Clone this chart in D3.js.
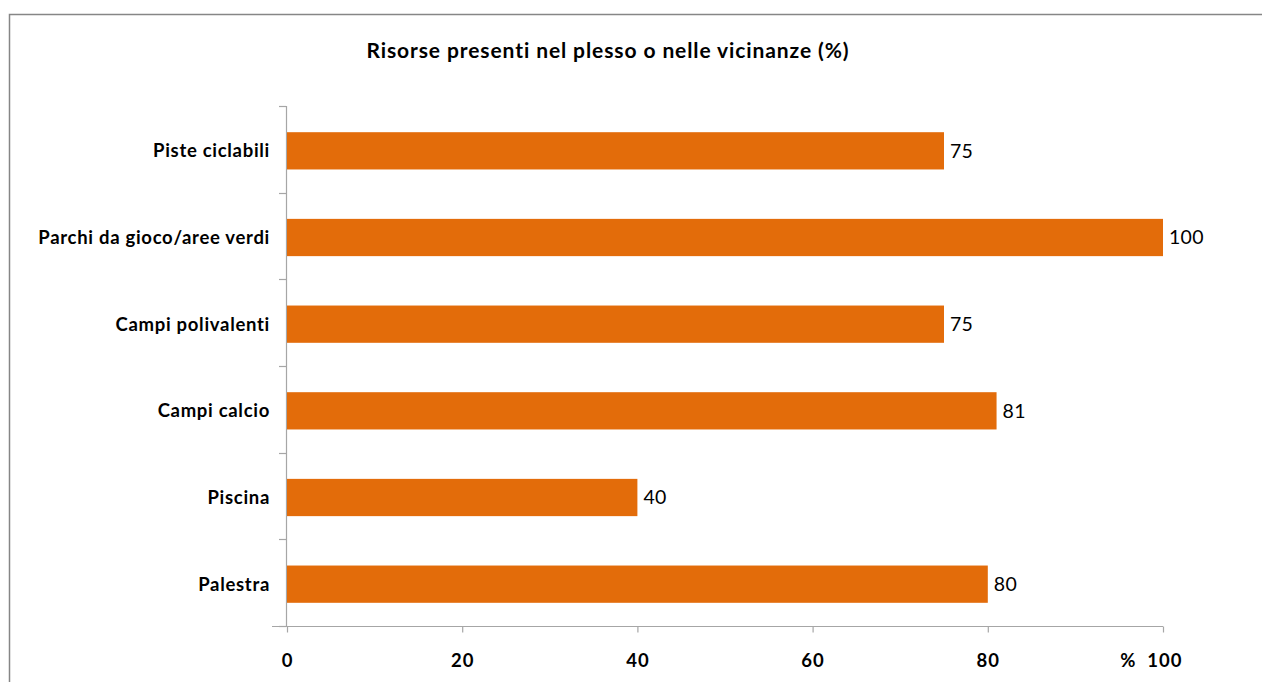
<!DOCTYPE html>
<html>
<head>
<meta charset="utf-8">
<script src="https://d3js.org/d3.v7.min.js"></script>
<style>
  body { margin: 0; background: #fff; }
  svg { display: block; }
  text { font-family: Lato, "Open Sans", sans-serif; white-space: pre; }
</style>
</head>
<body>
<svg width="1262" height="682"></svg>
<script>
var categories = ["Piste ciclabili", "Parchi da gioco/aree verdi", "Campi polivalenti", "Campi calcio", "Piscina", "Palestra"];
var values = [75, 100, 75, 81, 40, 80];
var tickValues = [0, 20, 40, 60, 80, 100];
var tickLabels = ["0", "20", "40", "60", "80", "%  100"];

var data = categories.map((c, i) => ({ name: c, val: values[i] }));

var svg = d3.select('svg');
var margin = { left: 287, right: 99, top: 106, bottom: 56 };
var width = 1262;
var height = 682;

// outer frame, runs off the right and bottom edges
svg.append('rect')
    .attr('x', 9.5).attr('y', 14.5)
    .attr('width', 1262).attr('height', 700)
    .attr('fill', 'none')
    .attr('stroke', '#868686')
    .attr('stroke-width', 1.5);

svg.append('text')
    .attr('x', 608).attr('y', 58)
    .attr('text-anchor', 'middle')
    .attr('font-size', 21)
    .attr('font-weight', 'bold')
    .attr('letter-spacing', 0.9)
    .text('Risorse presenti nel plesso o nelle vicinanze (%)');

var x = d3.scaleLinear()
    .domain([0, 100])
    .range([margin.left, width - margin.right]);

var y = d3.scaleBand()
    .domain(categories)
    .range([margin.top, height - margin.bottom])
    .paddingInner(0.57)
    .paddingOuter(0.285);

var axisColor = '#a6a6a6';
var shift = 1.5;

// y axis line + ticks at category boundaries
var yTop = margin.top, yBot = height - margin.bottom;
var step = (yBot - yTop) / categories.length;
svg.append('line')
    .attr('x1', x(0) - 0.5).attr('x2', x(0) - 0.5)
    .attr('y1', yTop).attr('y2', yBot)
    .attr('stroke', axisColor).attr('stroke-width', 1.2);
svg.selectAll('.ytick')
    .data(d3.range(categories.length + 1))
    .enter().append('line')
    .attr('x1', x(0) - 8).attr('x2', x(0) - 1)
    .attr('y1', d => Math.round(yTop + d * step) + 0.5)
    .attr('y2', d => Math.round(yTop + d * step) + 0.5)
    .attr('stroke', axisColor).attr('stroke-width', 1.2);

svg.selectAll('.ylabel')
    .data(categories)
    .enter().append('text')
    .attr('x', x(0) - 17)
    .attr('y', d => y(d) + y.bandwidth() / 2 + shift)
    .attr('dy', '0.35em')
    .attr('text-anchor', 'end')
    .attr('font-size', 18.5)
    .attr('font-weight', 'bold')
    .attr('letter-spacing', 0.7)
    .text(d => d);

// x axis
var xAxis = svg.append('g')
    .attr('transform', `translate(0,${yBot + 0.5})`)
    .call(d3.axisBottom(x)
        .tickValues(tickValues)
        .tickSize(6)
        .tickSizeOuter(0)
        .tickFormat((d, i) => tickLabels[i]));
xAxis.select('.domain').attr('stroke', axisColor).attr('stroke-width', 1.2)
    .attr('d', `M${x(0) - 15},0H${x(100)}`);
xAxis.selectAll('.tick line').attr('stroke', axisColor).attr('stroke-width', 1.2);
xAxis.selectAll('.tick text')
    .attr('y', 27)
    .attr('fill', '#000')
    .attr('font-family', 'Lato, "Open Sans", sans-serif')
    .attr('font-size', 18.5)
    .attr('font-weight', 'bold')
    .attr('letter-spacing', 1);
xAxis.selectAll('.tick').filter(d => d === 100).select('text')
    .attr('text-anchor', 'end')
    .attr('x', 19);

// bars
svg.selectAll('.bar')
    .data(data)
    .enter().append('rect')
    .attr('x', x(0))
    .attr('y', d => y(d.name) + shift)
    .attr('width', d => x(d.val) - x(0))
    .attr('height', y.bandwidth())
    .attr('fill', '#e36c0a');

svg.selectAll('.val')
    .data(data)
    .enter().append('text')
    .attr('x', d => x(d.val) + 6)
    .attr('y', d => y(d.name) + y.bandwidth() / 2 + shift)
    .attr('dy', '0.35em')
    .attr('font-size', 19.5)
    .attr('letter-spacing', 0.3)
    .text(d => d.val);
</script>
</body>
</html>
